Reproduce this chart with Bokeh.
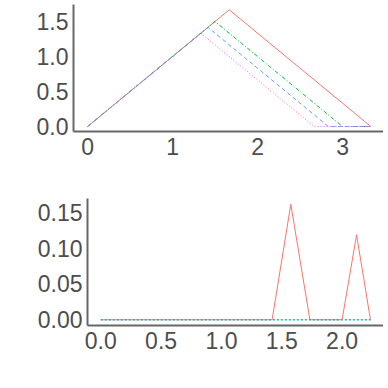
from bokeh.plotting import figure
from bokeh.models import Range1d, FixedTicker, PrintfTickFormatter
from bokeh.embed import file_html
from bokeh.resources import INLINE

# ---- top panel data ----
red_x = [0, 1.667, 3.333]
red_y = [0, 1.667, 0]
green_x = [0, 1.5, 3.0, 3.333]
green_y = [0, 1.5, 0, 0]
blue_x = [0, 1.417, 2.833, 3.333]
blue_y = [0, 1.417, 0, 0]
mag_x = [0, 1.333, 2.667, 3.333]
mag_y = [0, 1.333, 0, 0]
top_xticks = [0, 1, 2, 3]
top_yticks = [0, 0.5, 1.0, 1.5]

# ---- bottom panel data ----
b_red_x = [0, 1.42, 1.575, 1.733, 2.0, 2.12, 2.235]
b_red_y = [0, 0, 0.161, 0, 0, 0.1185, 0]
b_cyan_x = [0, 2.235]
b_cyan_y = [0, 0]
bot_xticks = [0, 0.5, 1.0, 1.5, 2.0]
bot_yticks = [0, 0.05, 0.10, 0.15]

FONT = "Liberation Sans"
LABEL_COLOR = "#4D4D4D"
AXIS_COLOR = "#666666"


def style(p, xticks, yticks, fs, xfmt, yfmt):
    p.xgrid.visible = False
    p.ygrid.visible = False
    p.outline_line_color = None
    p.xaxis.ticker = FixedTicker(ticks=xticks)
    p.yaxis.ticker = FixedTicker(ticks=yticks)
    p.xaxis.formatter = PrintfTickFormatter(format=xfmt)
    p.yaxis.formatter = PrintfTickFormatter(format=yfmt)
    for ax in (p.xaxis, p.yaxis):
        ax.major_tick_line_color = None
        ax.minor_tick_line_color = None
        ax.major_tick_out = 0
        ax.major_tick_in = 0
        ax.minor_tick_out = 0
        ax.axis_line_color = AXIS_COLOR
        ax.axis_line_width = 2
        ax.major_label_text_font = FONT
        ax.major_label_text_font_size = fs
        ax.major_label_text_color = LABEL_COLOR
    p.xaxis.major_label_standoff = 6
    p.yaxis.major_label_standoff = 5


p1 = figure(width=383, height=190, output_backend="svg", toolbar_location=None,
            x_range=Range1d(-0.165, 3.482), y_range=Range1d(-0.071, 1.743),
            min_border_left=73, min_border_right=0, min_border_top=4,
            min_border_bottom=59)
style(p1, top_xticks, top_yticks, "23px", "%d", "%.1f")
p1.line(red_x, red_y, line_color="#F8766D", line_width=1)
p1.line(green_x, green_y, line_color="#00BA38", line_width=1, line_dash="4 2 1 2")
p1.line(blue_x, blue_y, line_color="#619CFF", line_width=1, line_dash="4 3")
p1.line(mag_x, mag_y, line_color="#F564E3", line_width=1, line_dash="1 2")

p2 = figure(width=383, height=195, output_backend="svg", toolbar_location=None,
            x_range=Range1d(-0.110, 2.343), y_range=Range1d(-0.008, 0.169),
            min_border_left=87, min_border_right=0, min_border_top=8,
            min_border_bottom=60)
style(p2, bot_xticks, bot_yticks, "23px", "%.1f", "%.2f")
p2.line(b_red_x, b_red_y, line_color="#F8766D", line_width=1)
p2.line(b_cyan_x, b_cyan_y, line_color="#00BFC4", line_width=1.5, line_dash="2 2")

open("out.html", "w").write(file_html([p1, p2], INLINE))
